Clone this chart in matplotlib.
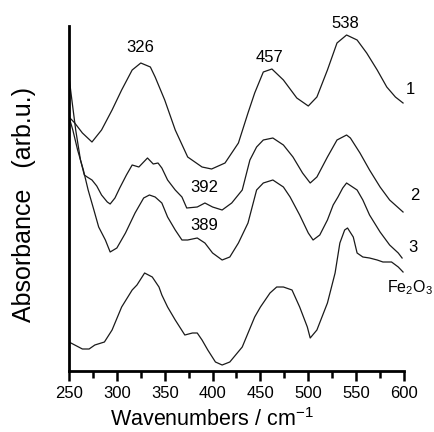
import matplotlib
matplotlib.use("Agg")
import matplotlib.pyplot as plt

plt.rcParams["font.family"] = ["Liberation Sans", "DejaVu Sans"]
plt.rcParams["mathtext.fontset"] = "custom"
plt.rcParams["mathtext.rm"] = "Liberation Sans"
plt.rcParams["mathtext.it"] = "Liberation Sans"

# spectra (wavenumber in cm-1, absorbance in arbitrary offset units)
wn1 = [250, 256, 264, 274, 284, 295, 305, 316, 325, 335, 340, 350, 361, 374, 389,
       399, 413, 427, 437, 444, 453, 462, 474, 488, 500, 509, 520, 530, 540, 551,
       561, 572, 582, 591, 599]
abs1 = [254, 248, 238, 229, 241, 261, 281, 301, 308, 304, 294, 271, 241, 214, 204,
        202, 208, 228, 258, 278, 299, 302, 291, 273, 265, 274, 301, 328, 336, 331,
        318, 301, 284, 274, 268]

wn2 = [250, 253, 257, 262, 266, 269, 274, 279, 284, 290, 293, 298, 303, 310, 316,
       323, 332, 338, 343, 347, 353, 361, 368, 373, 384, 392, 400, 410, 420, 431,
       439, 446, 453, 463, 474, 484, 494, 502, 509, 520, 530, 540, 544, 554, 564,
       575, 585, 599]
abs2 = [294, 271, 241, 211, 196, 194, 191, 185, 176, 169, 167, 173, 183, 196, 206,
        204, 213, 207, 208, 203, 191, 181, 174, 163, 164, 168, 164, 161, 168, 181,
        211, 224, 231, 233, 226, 214, 198, 188, 194, 214, 231, 236, 233, 218, 201,
        184, 171, 159]

wn3 = [250, 254, 259, 265, 270, 276, 281, 288, 293, 300, 309, 319, 328, 334, 340,
       347, 353, 361, 368, 374, 384, 392, 400, 410, 418, 427, 437, 446, 453, 463,
       474, 481, 491, 500, 505, 512, 520, 526, 531, 536, 540, 551, 557, 564, 575,
       585, 594, 598]
abs3 = [254, 241, 221, 201, 181, 161, 144, 131, 119, 123, 138, 158, 173, 176, 174,
        168, 154, 141, 131, 131, 133, 128, 118, 111, 114, 128, 148, 181, 188, 191,
        184, 174, 156, 138, 131, 136, 151, 166, 174, 183, 188, 181, 171, 156, 139,
        126, 118, 113]

wn_fe = [250, 256, 264, 271, 277, 287, 295, 305, 316, 321, 329, 337, 344, 347, 353,
         361, 371, 379, 384, 389, 395, 403, 410, 418, 431, 444, 450, 460, 467, 474,
         483, 491, 499, 502, 509, 520, 528, 533, 538, 541, 547, 551, 557, 564, 572,
         578, 587, 594, 599]
abs_fe = [29, 26, 22, 22, 26, 29, 41, 64, 81, 86, 98, 94, 84, 76, 64,
          51, 36, 38, 38, 31, 21, 9, 6, 9, 24, 54, 64, 78, 84, 84,
          81, 64, 44, 33, 41, 68, 98, 128, 141, 143, 134, 118, 114, 113, 111,
          109, 109, 104, 99]

peak_labels = ["326", "457", "538", "392", "389"]
peak_pos = [(324, 324), (460, 314), (539, 348), (391, 184), (391, 146)]

curve_labels = ["1", "2", "3", "Fe$_2$O$_3$"]
curve_label_pos = [(607, 281), (611, 176), (609, 123), (606, 83)]

fig = plt.figure(figsize=(4.35, 4.32), dpi=100)
ax = fig.add_axes([69 / 435, 1 - 371 / 432, 335 / 435, 345 / 432])

for wn, a in [(wn1, abs1), (wn2, abs2), (wn3, abs3), (wn_fe, abs_fe)]:
    ax.plot(wn, a, color="#1a1a1a", lw=0.9, solid_joinstyle="round")

for text, (x, y) in zip(peak_labels, peak_pos):
    ax.text(x, y, text, ha="center", va="center", fontsize=12)
for text, (x, y) in zip(curve_labels, curve_label_pos):
    ax.text(x, y, text, ha="center", va="center", fontsize=12 if len(text) == 1 else 11.5,
            clip_on=False)

ax.set_xlim(250, 600)
ax.set_ylim(0, 345)
ax.set_xticks(range(250, 601, 50))
ax.set_xticks(range(275, 600, 50), minor=True)
ax.set_yticks([])
for side in ["top", "right"]:
    ax.spines[side].set_visible(False)
for side in ["left", "bottom"]:
    ax.spines[side].set_linewidth(2)
ax.tick_params(axis="x", which="major", direction="out", length=7, width=1.8,
               labelsize=12, pad=4)
ax.tick_params(axis="x", which="minor", direction="out", length=5, width=1.8)

fig.text(212 / 435, 1 - 426 / 432, "Wavenumbers / cm$^{-1}$", ha="center",
         va="baseline", fontsize=15.5)
fig.text(24 / 435, 1 - 204 / 432, "Absorbance   (arb.u.)", rotation=90,
         ha="center", va="center", fontsize=18)

fig.savefig("out.png", dpi=100)
